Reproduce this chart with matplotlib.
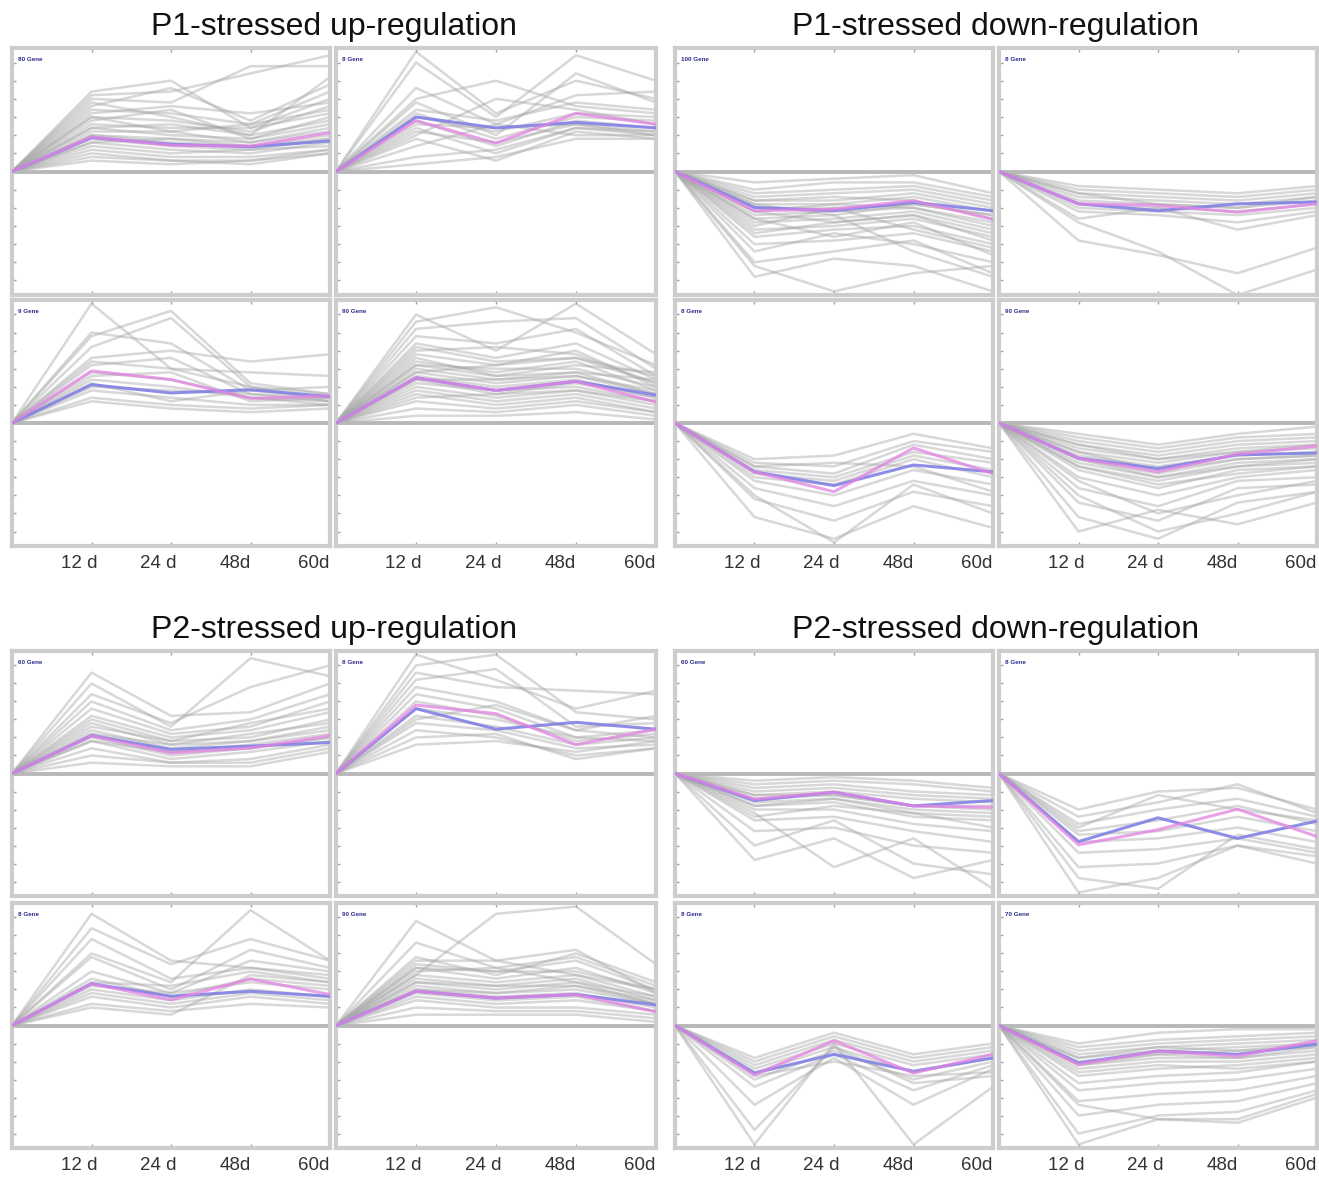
import matplotlib.pyplot as plt
import matplotlib.transforms as mtransforms

# time points (first point is the 0 d reference, always 0)
days = ["0 d", "12 d", "24 d", "48d", "60d"]
tick_labels = ["12 d", "24 d", "48d", "60d"]

group_titles = ["P1-stressed up-regulation", "P1-stressed down-regulation",
                "P2-stressed up-regulation", "P2-stressed down-regulation"]

# ---- P1 up-regulation ------------------------------------------------------
p1_up_a_genes = [
    [2.2, 2.5, 1.2, 2.0], [2.1, 2.2, 2.7, 3.2], [2.0, 1.9, 2.9, 2.9],
    [1.8, 2.3, 1.4, 2.4], [1.7, 1.6, 1.3, 2.2], [1.5, 1.4, 1.1, 1.8],
    [1.4, 1.7, 0.9, 1.5], [1.3, 1.2, 1.2, 1.6], [1.2, 1.0, 0.9, 1.3],
    [1.1, 1.1, 0.8, 1.2], [1.0, 0.8, 0.7, 1.0], [0.9, 0.7, 0.6, 0.9],
    [0.8, 0.6, 0.5, 0.8], [0.7, 0.5, 0.6, 0.7], [0.6, 0.4, 0.4, 0.6],
    [0.5, 0.3, 0.3, 0.6], [0.4, 0.3, 0.2, 0.5], [0.3, 0.2, 0.3, 0.5],
    [1.9, 1.5, 1.0, 2.6], [1.6, 1.8, 1.6, 1.9], [1.2, 1.3, 1.0, 1.4],
    [1.0, 0.9, 0.8, 1.1], [0.8, 0.9, 0.7, 0.9], [1.5, 1.1, 1.3, 1.7]]
p1_up_a_mean = [0.93, 0.75, 0.68, 0.84]
p1_up_a_median = [0.95, 0.72, 0.70, 1.07]

p1_up_b_genes = [
    [3.3, 1.6, 2.5, 2.0], [3.0, 1.5, 3.2, 2.5], [2.0, 2.5, 1.8, 1.6],
    [2.3, 1.3, 2.1, 2.2], [1.9, 1.0, 2.7, 1.9], [1.7, 1.4, 1.9, 1.7],
    [1.6, 0.9, 1.5, 1.4], [1.5, 1.1, 1.6, 1.5], [1.4, 0.7, 1.4, 1.2],
    [1.3, 1.2, 1.3, 1.1], [1.2, 0.5, 1.2, 1.0], [1.1, 0.8, 1.3, 1.0],
    [0.9, 0.3, 1.1, 0.9], [0.7, 1.3, 1.0, 1.0], [0.4, 0.6, 1.2, 1.1],
    [0.2, 0.4, 0.9, 0.9], [1.0, 2.0, 1.7, 1.3]]
p1_up_b_mean = [1.50, 1.20, 1.35, 1.20]
p1_up_b_median = [1.40, 0.78, 1.60, 1.30]

p1_up_c_genes = [
    [3.3, 1.5, 1.0, 0.8], [2.5, 2.2, 0.9, 0.7], [2.4, 3.1, 1.1, 0.8],
    [2.1, 2.9, 1.0, 0.6], [1.8, 2.0, 1.7, 1.9], [1.7, 1.5, 1.4, 1.3],
    [1.6, 1.8, 0.8, 0.7], [1.4, 1.2, 0.7, 0.6], [1.3, 1.4, 0.6, 0.7],
    [1.2, 1.0, 0.7, 0.5], [1.0, 0.9, 0.8, 0.6], [0.9, 0.7, 0.5, 0.5],
    [0.7, 0.5, 0.4, 0.5], [0.6, 0.4, 0.3, 0.4], [1.1, 0.6, 0.9, 1.0]]
p1_up_c_mean = [1.06, 0.83, 0.92, 0.73]
p1_up_c_median = [1.44, 1.20, 0.68, 0.75]

p1_up_d_genes = [
    [3.0, 2.0, 3.3, 1.9], [2.8, 3.2, 2.5, 1.6], [2.6, 2.8, 2.9, 1.5],
    [2.4, 2.2, 2.6, 1.3], [2.2, 1.8, 2.2, 1.2], [2.0, 2.1, 1.9, 1.1],
    [1.9, 1.6, 2.0, 1.0], [1.7, 1.4, 1.7, 0.9], [1.6, 1.5, 1.5, 1.0],
    [1.5, 1.2, 1.4, 0.8], [1.4, 1.1, 1.3, 0.9], [1.3, 1.0, 1.2, 0.7],
    [1.2, 0.8, 1.1, 0.7], [1.1, 0.9, 1.0, 0.6], [1.0, 0.7, 0.9, 0.5],
    [0.9, 0.6, 0.8, 0.4], [0.8, 0.5, 0.7, 0.3], [0.6, 0.4, 0.6, 0.3],
    [0.4, 0.3, 0.5, 0.2], [0.2, 0.2, 0.3, 0.1], [1.8, 1.3, 1.6, 1.4],
    [1.4, 1.6, 1.8, 1.1], [1.6, 1.3, 1.4, 1.2], [1.2, 1.2, 1.3, 0.8],
    [2.1, 1.7, 1.8, 1.3], [0.7, 0.8, 0.9, 0.6]]
p1_up_d_mean = [1.25, 0.90, 1.15, 0.77]
p1_up_d_median = [1.25, 0.90, 1.15, 0.58]

# ---- P1 down-regulation ----------------------------------------------------
p1_down_a_genes = [
    [-0.3, -0.2, -0.1, -0.6], [-0.5, -0.3, -0.3, -0.7], [-0.6, -0.5, -0.4, -0.8],
    [-0.7, -0.6, -0.5, -0.9], [-0.8, -0.8, -0.6, -1.0], [-0.9, -0.9, -0.7, -1.1],
    [-1.0, -1.0, -0.9, -1.2], [-1.2, -1.1, -1.0, -1.4], [-1.4, -1.3, -1.1, -1.6],
    [-1.6, -1.5, -1.3, -1.8], [-1.8, -1.6, -1.5, -2.0], [-2.0, -1.9, -1.7, -2.2],
    [-2.2, -1.7, -2.0, -2.5], [-2.5, -2.2, -1.9, -2.8], [-2.9, -2.4, -2.6, -3.3],
    [-2.6, -3.3, -2.8, -2.6], [-1.1, -1.4, -1.2, -1.9], [-1.3, -1.8, -1.4, -2.3],
    [-0.9, -1.2, -2.2, -2.9], [-1.5, -1.0, -1.6, -2.1], [-0.8, -0.7, -0.8, -1.3],
    [-1.1, -0.9, -1.0, -1.5], [-1.3, -1.2, -0.9, -1.2], [-1.7, -1.4, -1.2, -1.7]]
p1_down_a_mean = [-0.99, -1.08, -0.85, -1.08]
p1_down_a_median = [-1.08, -1.04, -0.80, -1.32]

p1_down_b_genes = [
    [-0.4, -0.5, -0.6, -0.4], [-0.5, -0.6, -0.7, -0.5], [-0.6, -0.7, -0.8, -0.6],
    [-0.7, -0.8, -0.9, -0.7], [-0.8, -0.9, -1.0, -0.8], [-0.9, -1.0, -1.1, -0.9],
    [-1.0, -1.1, -1.2, -1.0], [-1.1, -1.2, -1.4, -1.1], [-1.3, -1.0, -1.6, -1.2],
    [-1.9, -2.3, -2.8, -2.1], [-1.4, -2.2, -3.4, -2.7], [-0.6, -0.9, -1.0, -0.7]]
p1_down_b_mean = [-0.89, -1.08, -0.89, -0.84]
p1_down_b_median = [-0.89, -0.93, -1.12, -0.89]

p1_down_c_genes = [
    [-1.0, -0.9, -0.3, -0.7], [-1.1, -1.2, -0.5, -0.8], [-1.2, -1.4, -0.6, -1.0],
    [-1.3, -1.5, -0.8, -1.1], [-1.4, -1.6, -0.9, -1.3], [-1.5, -1.7, -1.0, -1.5],
    [-1.6, -2.0, -1.3, -1.7], [-1.8, -2.3, -1.6, -2.0], [-2.1, -2.7, -1.9, -2.3],
    [-2.6, -3.2, -2.3, -2.9], [-2.0, -3.3, -1.7, -2.5], [-1.2, -1.1, -1.2, -1.9]]
p1_down_c_mean = [-1.35, -1.73, -1.16, -1.35]
p1_down_c_median = [-1.35, -1.90, -0.69, -1.40]

p1_down_d_genes = [
    [-0.3, -0.6, -0.3, -0.1], [-0.4, -0.7, -0.4, -0.3], [-0.5, -0.8, -0.5, -0.4],
    [-0.6, -0.9, -0.6, -0.5], [-0.7, -1.0, -0.7, -0.6], [-0.8, -1.1, -0.8, -0.7],
    [-0.9, -1.2, -0.9, -0.8], [-1.0, -1.4, -1.0, -0.9], [-1.1, -1.5, -1.1, -1.0],
    [-1.2, -1.6, -1.2, -1.1], [-1.3, -1.8, -1.3, -1.2], [-1.5, -2.0, -1.5, -1.3],
    [-1.8, -2.3, -1.6, -1.5], [-2.2, -2.7, -1.8, -1.7], [-2.6, -3.2, -2.2, -1.9],
    [-3.0, -2.4, -2.8, -2.2], [-2.0, -3.0, -2.5, -1.9], [-1.6, -2.5, -2.0, -1.6],
    [-0.8, -1.3, -1.0, -0.9], [-1.0, -1.5, -1.2, -1.0], [-0.6, -1.0, -0.8, -0.6],
    [-1.2, -1.7, -1.4, -1.2]]
p1_down_d_mean = [-0.97, -1.26, -0.88, -0.83]
p1_down_d_median = [-0.97, -1.35, -0.86, -0.64]

# ---- P2 up-regulation ------------------------------------------------------
p2_up_a_genes = [
    [2.8, 1.6, 1.7, 2.5], [2.5, 1.3, 3.2, 2.7], [2.2, 1.4, 2.4, 3.0],
    [2.0, 1.2, 1.5, 2.2], [1.8, 1.1, 1.3, 2.0], [1.6, 1.0, 1.2, 1.7],
    [1.5, 0.9, 1.0, 1.5], [1.4, 0.8, 1.1, 1.4], [1.2, 0.7, 0.9, 1.2],
    [1.1, 0.6, 0.8, 1.1], [1.0, 0.5, 0.7, 1.0], [0.9, 0.4, 0.6, 0.9],
    [0.7, 0.3, 0.4, 0.8], [0.5, 0.3, 0.3, 0.7], [0.3, 0.2, 0.2, 0.6],
    [1.3, 0.9, 1.4, 1.8], [1.1, 0.8, 0.9, 1.3], [0.9, 0.6, 0.7, 1.0]]
p2_up_a_mean = [1.05, 0.67, 0.76, 0.86]
p2_up_a_median = [1.05, 0.57, 0.71, 1.05]

p2_up_b_genes = [
    [3.3, 2.6, 1.8, 2.3], [3.0, 3.3, 1.7, 1.5], [2.8, 2.4, 2.3, 2.2],
    [2.6, 2.9, 1.3, 1.4], [2.4, 2.0, 1.2, 1.6], [2.2, 1.8, 1.0, 1.2],
    [2.0, 1.6, 0.9, 1.1], [1.8, 1.5, 1.0, 0.9], [1.6, 1.3, 0.8, 1.0],
    [1.4, 1.2, 0.7, 0.8], [1.2, 1.0, 0.5, 0.7], [1.0, 1.1, 0.4, 0.7],
    [0.8, 0.9, 0.6, 0.9], [1.5, 1.9, 1.2, 1.0]]
p2_up_b_mean = [1.80, 1.23, 1.42, 1.23]
p2_up_b_median = [1.90, 1.66, 0.80, 1.23]

p2_up_c_genes = [
    [3.1, 1.8, 1.6, 1.3], [2.7, 1.7, 2.4, 1.8], [2.4, 1.3, 1.6, 1.4],
    [2.0, 1.2, 3.2, 1.8], [1.9, 1.0, 2.1, 1.6], [1.5, 0.9, 1.8, 1.5],
    [1.3, 0.8, 1.3, 1.1], [1.1, 0.9, 1.2, 1.0], [1.0, 0.7, 1.0, 0.8],
    [0.9, 0.6, 0.9, 0.7], [0.8, 0.5, 0.8, 0.6], [0.6, 0.4, 0.6, 0.5],
    [0.5, 0.3, 1.4, 1.2], [1.2, 1.1, 1.5, 1.2]]
p2_up_c_mean = [1.16, 0.81, 0.95, 0.81]
p2_up_c_median = [1.16, 0.71, 1.29, 0.86]

p2_up_d_genes = [
    [2.9, 1.8, 1.4, 1.0], [2.3, 1.6, 1.9, 1.1], [1.4, 3.1, 3.3, 1.7],
    [1.8, 1.8, 2.1, 0.9], [1.7, 1.5, 1.8, 1.0], [1.6, 1.3, 1.6, 0.9],
    [1.4, 1.2, 1.4, 0.8], [1.3, 1.1, 1.3, 0.7], [1.2, 1.0, 1.2, 0.6],
    [1.1, 0.9, 1.0, 0.6], [1.0, 0.8, 0.9, 0.5], [0.9, 0.7, 0.8, 0.4],
    [0.8, 0.6, 0.7, 0.4], [0.7, 0.5, 0.5, 0.3], [0.5, 0.4, 0.4, 0.2],
    [0.3, 0.3, 0.3, 0.1], [1.5, 1.6, 1.2, 0.8], [1.9, 1.4, 2.0, 1.2],
    [1.6, 1.5, 1.5, 1.0], [1.2, 1.1, 1.1, 0.7], [1.0, 0.9, 1.1, 0.6]]
p2_up_d_mean = [0.95, 0.76, 0.86, 0.57]
p2_up_d_median = [0.95, 0.76, 0.86, 0.38]

# ---- P2 down-regulation ----------------------------------------------------
p2_down_a_genes = [
    [-0.2, -0.1, -0.2, -0.4], [-0.3, -0.2, -0.3, -0.5], [-0.4, -0.3, -0.5, -0.6],
    [-0.5, -0.4, -0.6, -0.7], [-0.6, -0.5, -0.7, -0.8], [-0.7, -0.6, -0.9, -1.0],
    [-0.8, -0.7, -1.0, -1.1], [-0.9, -0.8, -1.2, -1.3], [-1.0, -1.0, -1.4, -1.6],
    [-1.3, -1.2, -1.6, -1.9], [-1.6, -1.5, -2.0, -2.2], [-2.0, -1.3, -2.5, -2.8],
    [-2.4, -1.8, -2.9, -2.4], [-1.1, -2.6, -1.8, -3.2], [-1.2, -0.9, -1.1, -1.5],
    [-0.6, -0.6, -0.9, -0.9], [-0.9, -0.7, -1.1, -1.2]]
p2_down_a_mean = [-0.75, -0.52, -0.90, -0.75]
p2_down_a_median = [-0.71, -0.52, -0.90, -0.94]

p2_down_b_genes = [
    [-1.0, -0.5, -0.4, -1.0], [-1.2, -0.8, -0.3, -1.1], [-1.4, -1.0, -0.7, -1.2],
    [-1.6, -1.3, -0.9, -1.4], [-1.7, -1.6, -1.2, -1.6], [-1.9, -1.8, -1.5, -1.9],
    [-2.2, -2.1, -1.8, -2.2], [-2.6, -2.5, -2.0, -2.5], [-3.3, -2.9, -2.0, -2.3],
    [-2.9, -3.2, -1.7, -2.1], [-1.5, -0.6, -1.0, -1.3]]
p2_down_b_mean = [-1.89, -1.23, -1.80, -1.32]
p2_down_b_median = [-1.98, -1.56, -0.99, -1.75]

p2_down_c_genes = [
    [-0.9, -0.2, -0.8, -0.5], [-1.0, -0.3, -0.9, -0.6], [-1.1, -0.4, -1.0, -0.7],
    [-1.2, -0.5, -1.1, -0.8], [-1.3, -0.6, -1.3, -0.9], [-1.5, -0.7, -1.5, -1.0],
    [-1.7, -0.8, -1.8, -1.1], [-2.2, -0.9, -2.2, -1.2], [-2.9, -0.6, -1.6, -1.4],
    [-3.3, -0.5, -3.3, -1.7], [-1.4, -1.0, -1.4, -1.3]]
p2_down_c_mean = [-1.32, -0.80, -1.27, -0.90]
p2_down_c_median = [-1.37, -0.42, -1.32, -0.80]

p2_down_d_genes = [
    [-0.5, -0.2, -0.1, -0.1], [-0.6, -0.4, -0.3, -0.2], [-0.7, -0.5, -0.4, -0.3],
    [-0.8, -0.6, -0.5, -0.4], [-0.9, -0.7, -0.6, -0.5], [-1.0, -0.8, -0.7, -0.6],
    [-1.1, -0.9, -0.9, -0.7], [-1.2, -1.0, -1.0, -0.8], [-1.4, -1.2, -1.1, -0.9],
    [-1.6, -1.4, -1.3, -1.0], [-1.8, -1.6, -1.5, -1.2], [-2.1, -1.9, -1.8, -1.4],
    [-2.5, -2.2, -2.1, -1.6], [-3.0, -2.5, -2.4, -1.8], [-3.3, -2.6, -2.7, -2.0],
    [-2.2, -2.6, -2.6, -1.9], [-1.3, -1.1, -1.2, -1.0], [-0.9, -0.6, -0.7, -0.5],
    [-1.1, -0.8, -0.9, -0.6]]
p2_down_d_mean = [-1.04, -0.71, -0.80, -0.52]
p2_down_d_median = [-1.08, -0.71, -0.85, -0.42]

gene_counts = ["80 Gene", "8 Gene", "9 Gene", "90 Gene",
               "100 Gene", "8 Gene", "8 Gene", "90 Gene",
               "60 Gene", "8 Gene", "8 Gene", "90 Gene",
               "60 Gene", "8 Gene", "8 Gene", "70 Gene"]

panels = [
    (p1_up_a_genes, p1_up_a_mean, p1_up_a_median),
    (p1_up_b_genes, p1_up_b_mean, p1_up_b_median),
    (p1_up_c_genes, p1_up_c_mean, p1_up_c_median),
    (p1_up_d_genes, p1_up_d_mean, p1_up_d_median),
    (p1_down_a_genes, p1_down_a_mean, p1_down_a_median),
    (p1_down_b_genes, p1_down_b_mean, p1_down_b_median),
    (p1_down_c_genes, p1_down_c_mean, p1_down_c_median),
    (p1_down_d_genes, p1_down_d_mean, p1_down_d_median),
    (p2_up_a_genes, p2_up_a_mean, p2_up_a_median),
    (p2_up_b_genes, p2_up_b_mean, p2_up_b_median),
    (p2_up_c_genes, p2_up_c_mean, p2_up_c_median),
    (p2_up_d_genes, p2_up_d_mean, p2_up_d_median),
    (p2_down_a_genes, p2_down_a_mean, p2_down_a_median),
    (p2_down_b_genes, p2_down_b_mean, p2_down_b_median),
    (p2_down_c_genes, p2_down_c_mean, p2_down_c_median),
    (p2_down_d_genes, p2_down_d_mean, p2_down_d_median),
]

plt.rcParams['font.family'] = ['Liberation Sans', 'DejaVu Sans']

W, H = 1319, 1180
fig = plt.figure(figsize=(W / 100, H / 100), dpi=100)

col_x = [(12, 330), (336, 656), (675, 993), (999, 1317)]
row_y = [(48, 295), (300, 546), (651, 896), (903, 1148)]
title_y = [27, 630]

x = list(range(len(days)))
label_shift = [0.07, 0.07, 0.0, -0.01]

def draw_panel(ax, genes, mean, median, label, bottom):
    for g in genes:
        ax.plot(x, [0] + g, color="#a9a9a9", lw=1.8, alpha=0.45, zorder=1)
    ax.axhline(0, color="#b8b8b8", lw=2.8, zorder=2)
    ax.plot(x, [0] + mean, color="#8282e4", lw=2.2, alpha=0.9, zorder=3)
    ax.plot(x, [0] + median, color="#e283e2", lw=2.2, alpha=0.75, zorder=4)
    ax.set_xlim(0, 4)
    ax.set_ylim(-3.4, 3.4)
    ax.set_yticks([v * 0.5 for v in range(-6, 7)])
    ax.set_xticks([1, 2, 3])
    ax.tick_params(axis="both", direction="in", length=3, width=1,
                   color="#a0a0a0", labelleft=False, labelbottom=False,
                   top=True, bottom=True, left=True, right=False)
    for s in ax.spines.values():
        s.set_color("#cdcdcd")
        s.set_linewidth(3)
    ax.text(0.02, 0.955, label, transform=ax.transAxes, fontsize=4.5,
            color="#2b2b8c", fontweight="bold", ha="left", va="center")
    if bottom:
        trans = mtransforms.blended_transform_factory(ax.transData, ax.transAxes)
        for i, lab in enumerate(tick_labels):
            ax.text(i + 1 + label_shift[i], -0.035, lab, transform=trans,
                    ha="right", va="top", fontsize=13.5, color="#333333")

k = 0
for g in range(4):
    gr, gc = divmod(g, 2)
    for r in range(2):
        for c in range(2):
            x0, x1 = col_x[gc * 2 + c]
            y0, y1 = row_y[gr * 2 + r]
            ax = fig.add_axes([x0 / W, 1 - y1 / H, (x1 - x0) / W, (y1 - y0) / H])
            genes, mean, median = panels[k]
            draw_panel(ax, genes, mean, median, gene_counts[k], r == 1)
            k += 1
    cx = (col_x[gc * 2][0] + col_x[gc * 2 + 1][1]) / 2
    fig.text(cx / W, 1 - title_y[gr] / H, group_titles[g], ha="center",
             va="center", fontsize=23, color="#111111")

fig.savefig("out.png", dpi=100)
